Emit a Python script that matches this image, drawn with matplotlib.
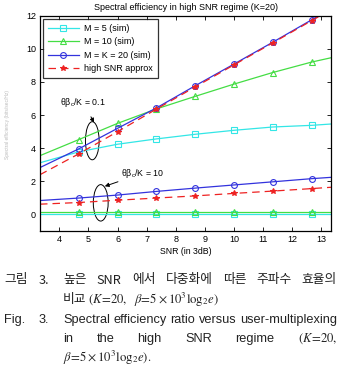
import numpy as np
import matplotlib
matplotlib.use('Agg')
import matplotlib.pyplot as plt
from matplotlib.patches import Ellipse

plt.rcParams['font.family'] = ['Liberation Sans', 'DejaVu Sans']
plt.rcParams['mathtext.fontset'] = 'stix'

# SNR in dB, x axis shown in units of 3 dB
snr_db = [10, 14, 18, 22, 26, 30, 34, 38, 40]

# theta*beta_c/K = 0.1 (upper group)
m5_hi = [3.12, 3.78, 4.24, 4.56, 4.84, 5.08, 5.28, 5.38, 5.46]
m10_hi = [3.55, 4.52, 5.50, 6.37, 7.13, 7.87, 8.57, 9.20, 9.46]
m20_hi = [2.83, 3.96, 5.20, 6.43, 7.77, 9.08, 10.40, 11.75, 12.40]
approx_hi = [2.40, 3.66, 5.00, 6.36, 7.70, 9.03, 10.36, 11.70, 12.36]

# theta*beta_c/K = 10 (lower group)
m5_lo = [0.02, 0.02, 0.02, 0.02, 0.02, 0.02, 0.02, 0.02, 0.02]
m10_lo = [0.14, 0.14, 0.14, 0.14, 0.14, 0.14, 0.14, 0.14, 0.14]
m20_lo = [0.84, 0.99, 1.17, 1.39, 1.59, 1.78, 1.97, 2.16, 2.24]
approx_lo = [0.62, 0.72, 0.86, 0.99, 1.12, 1.27, 1.41, 1.56, 1.64]

labels = ['M = 5 (sim)', 'M = 10 (sim)', 'M = K = 20 (sim)', 'high SNR approx']

x = np.array(snr_db) / 3.0

W, H = 341, 375
fig = plt.figure(figsize=(W / 100, H / 100), dpi=100)
ax = fig.add_axes([40 / W, 1 - 231 / H, 291 / W, 215.3 / H])

c_cyan = '#33e6e6'
c_green = '#44dd44'
c_blue = '#3333dd'
c_red = '#ee2222'
mk = slice(1, 8)

styles = [
    dict(color=c_cyan, marker='s', ls='-'),
    dict(color=c_green, marker='^', ls='-'),
    dict(color=c_blue, marker='o', ls='-'),
    dict(color=c_red, marker='*', ls=(0, (6, 4))),
]
hi = [m5_hi, m10_hi, m20_hi, approx_hi]
lo = [m5_lo, m10_lo, m20_lo, approx_lo]

for st, yh, yl, lab in zip(styles, hi, lo, labels):
    ms = 4.2 if st['marker'] == '*' else 4.2
    kw = dict(lw=0.9, ms=ms, mfc='none', markevery=mk, mew=0.8)
    if st['marker'] == '*':
        kw['mfc'] = st['color']
    ax.plot(x, yh, label=lab, **st, **kw)
    ax.plot(x, yl, **st, **kw)

ax.set_xlim(10 / 3, 40 / 3)
ax.set_ylim(-1, 12)
ax.set_xticks(range(4, 14))
ax.set_yticks(range(0, 13, 2))
ax.tick_params(direction='in', labelsize=6.5, length=3, width=0.6, top=True, right=True, pad=3)
for s in ax.spines.values():
    s.set_linewidth(0.9)

ax.set_title('Spectral efficiency in high SNR regime (K=20)', fontsize=6.5, pad=4)
ax.set_xlabel('SNR (in 3dB)', fontsize=6.3, labelpad=2)
fig.text(8 / W, 1 - 125 / H, 'Spectral efficiency (bits/sec/Hz)', rotation=90,
         fontsize=3.5, color='#bbbbbb', ha='center', va='center')

leg = ax.legend(loc='upper left', fontsize=6.5, frameon=True, fancybox=False,
                edgecolor='k', borderpad=0.55, labelspacing=0.5, handlelength=3.4,
                handletextpad=0.6, borderaxespad=0.35, markerscale=1.0)
leg.get_frame().set_linewidth(0.9)

# groups
ax.add_patch(Ellipse((5.13, 4.45), 0.47, 2.3, fill=False, ec='k', lw=0.7))
ax.add_patch(Ellipse((5.42, 0.70), 0.51, 2.2, fill=False, ec='k', lw=0.7))
ax.annotate(r'θβ$_\mathregular{c}$/K = 0.1', xy=(5.19, 5.55), xytext=(4.82, 6.75),
            fontsize=6.3, ha='center', va='center',
            arrowprops=dict(arrowstyle='-|>', color='k', lw=0.7, mutation_scale=6,
                            shrinkA=4, shrinkB=0))
ax.annotate(r'θβ$_\mathregular{c}$/K = 10', xy=(5.56, 1.70), xytext=(6.85, 2.48),
            fontsize=6.3, ha='center', va='center',
            arrowprops=dict(arrowstyle='-|>', color='k', lw=0.7, mutation_scale=6,
                            shrinkA=16, shrinkB=0))

# caption
kr = ['Noto Sans CJK KR', 'DejaVu Sans']
en = ['Liberation Sans Narrow', 'Liberation Sans', 'DejaVu Sans']
cap_fs = 9.2
renderer = fig.canvas.get_renderer()


def justify(words, x0, x1, y, family):
    texts = [fig.text(0, 1 - y / H, w, fontsize=cap_fs, family=family, va='center',
                      color='#222222') for w in words]
    widths = [t.get_window_extent(renderer).width for t in texts]
    gap = (x1 - x0 - sum(widths)) / (len(words) - 1)
    xx = x0
    for t, w in zip(texts, widths):
        t.set_x(xx / W)
        xx += w + gap


def put(s, xp, y, family):
    fig.text(xp / W, 1 - y / H, s, fontsize=cap_fs, family=family, va='center', color='#222222')


rows = [280, 300, 320, 339, 358]
put('그림', 4, rows[0], kr)
put('3.', 39, rows[0], kr)
justify(['높은', 'SNR', '에서', '다중화에', '따른', '주파수', '효율의'], 63, 337, rows[0], kr)
put('비교', 63, rows[1], kr)
put(r'$(K\!=\!20,\ \ \beta\!=\!5\times10^3\log_2\!e)$', 88, rows[1], kr)
put('Fig.', 4, rows[2], en)
put('3.', 39, rows[2], en)
justify(['Spectral', 'efficiency', 'ratio', 'versus', 'user-multiplexing'], 63, 337, rows[2], en)
justify(['in', 'the', 'high', 'SNR', 'regime', r'$(K\!=\!20,$'], 63, 337, rows[3], en)
put(r'$\beta\!=\!5\times10^3\log_2\!e).$', 63, rows[4], en)

fig.savefig('out.png', dpi=100)
